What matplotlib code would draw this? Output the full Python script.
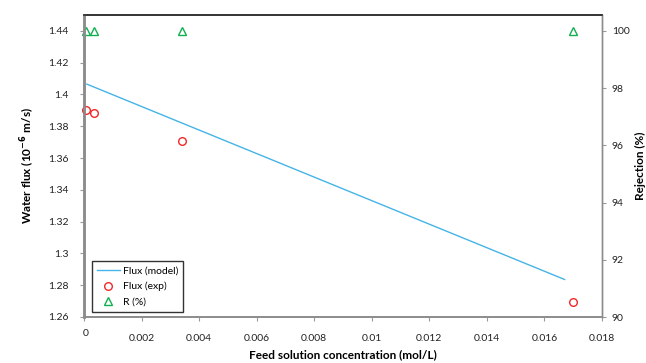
import numpy as np
import matplotlib.pyplot as plt
import matplotlib.transforms as mtransforms

plt.rcParams['font.family'] = ['Lato', 'DejaVu Sans']

# feed concentrations (mol/L)
conc_exp = [0.00008, 0.00034, 0.0034, 0.017]
flux_exp = [1.3905, 1.3885, 1.3705, 1.2697]   # 10^-6 m/s
rejection = [100.0, 100.0, 100.0, 100.0]     # %

conc_model = [0.0001, 0.0167]
flux_model = [1.4065, 1.2836]

fig = plt.figure(figsize=(6.46, 3.63), dpi=100)
ax = fig.add_axes([84 / 646, 1 - 317 / 363, (602 - 84) / 646, (317 - 15) / 363])
ax2 = ax.twinx()

ln, = ax.plot(conc_model, flux_model, color='#45B4E6', lw=1.0, label='Flux (model)')
pt, = ax.plot(conc_exp, flux_exp, 'o', ms=5.5, mfc='none', mec='#F02828', mew=1.0,
              label='Flux (exp)', clip_on=False)
tr, = ax2.plot(conc_exp, rejection, '^', ms=5.5, mfc='none', mec='#10B050', mew=1.0,
               label='R (%)', clip_on=False)

ax.set_xlim(0, 0.018)
ax.set_ylim(1.26, 1.45)
ax2.set_ylim(90, 90 + 10 * (1.45 - 1.26) / 0.18)

ax.set_xticks(np.arange(0, 0.0181, 0.002))
ax.set_xticklabels(['0', '0.002', '0.004', '0.006', '0.008', '0.01', '0.012',
                    '0.014', '0.016', '0.018'])
ax.set_yticks(np.arange(1.26, 1.441, 0.02))
ax.set_yticklabels(['1.26', '1.28', '1.3', '1.32', '1.34', '1.36', '1.38', '1.4',
                    '1.42', '1.44'])
ax2.set_yticks([90, 92, 94, 96, 98, 100])

for a in (ax, ax2):
    a.tick_params(labelsize=7.5, length=3, width=0.8, color='#999999',
                  labelcolor='#222222', direction='out')
ax.tick_params(axis='x', pad=9)
ax.tick_params(axis='y', pad=8)
ax2.tick_params(axis='y', pad=4)

# the "0" label sits a little higher than the rest
lbl0 = ax.get_xticklabels()[0]
lbl0.set_transform(lbl0.get_transform() +
                   mtransforms.ScaledTranslation(0.02, 0.05, fig.dpi_scale_trans))

for a in (ax, ax2):
    a.spines['left'].set_color('#8C8C8C')
    a.spines['left'].set_linewidth(1.8)
    a.spines['bottom'].set_color('#8C8C8C')
    a.spines['bottom'].set_linewidth(1.2)
    a.spines['right'].set_color('#8C8C8C')
    a.spines['right'].set_linewidth(1.0)
    a.spines['top'].set_color('#333333')
    a.spines['top'].set_linewidth(1.2)

ax.set_xlabel('Feed solution concentration (mol/L)', fontsize=8.5, fontweight='bold',
              labelpad=5)
ax.set_ylabel('Water flux (10$^{\\mathbf{-6}}$ m/s)', fontsize=8.5, fontweight='bold',
              labelpad=8)
ax2.set_ylabel('Rejection (%)', fontsize=8.5, fontweight='bold', labelpad=4)

leg = ax.legend(handles=[ln, pt, tr], loc='lower left',
                bbox_to_anchor=(7.5 / 518, 5.5 / 302), fontsize=7.5, frameon=True,
                fancybox=False, edgecolor='black', borderpad=0.5, labelspacing=0.55,
                handlelength=2.2, handletextpad=0.3, borderaxespad=0)
leg.get_frame().set_linewidth(1.0)
leg.set_zorder(5)
ax.set_zorder(ax2.get_zorder() + 1)
ax.patch.set_visible(False)

fig.savefig('out.png', dpi=100)
